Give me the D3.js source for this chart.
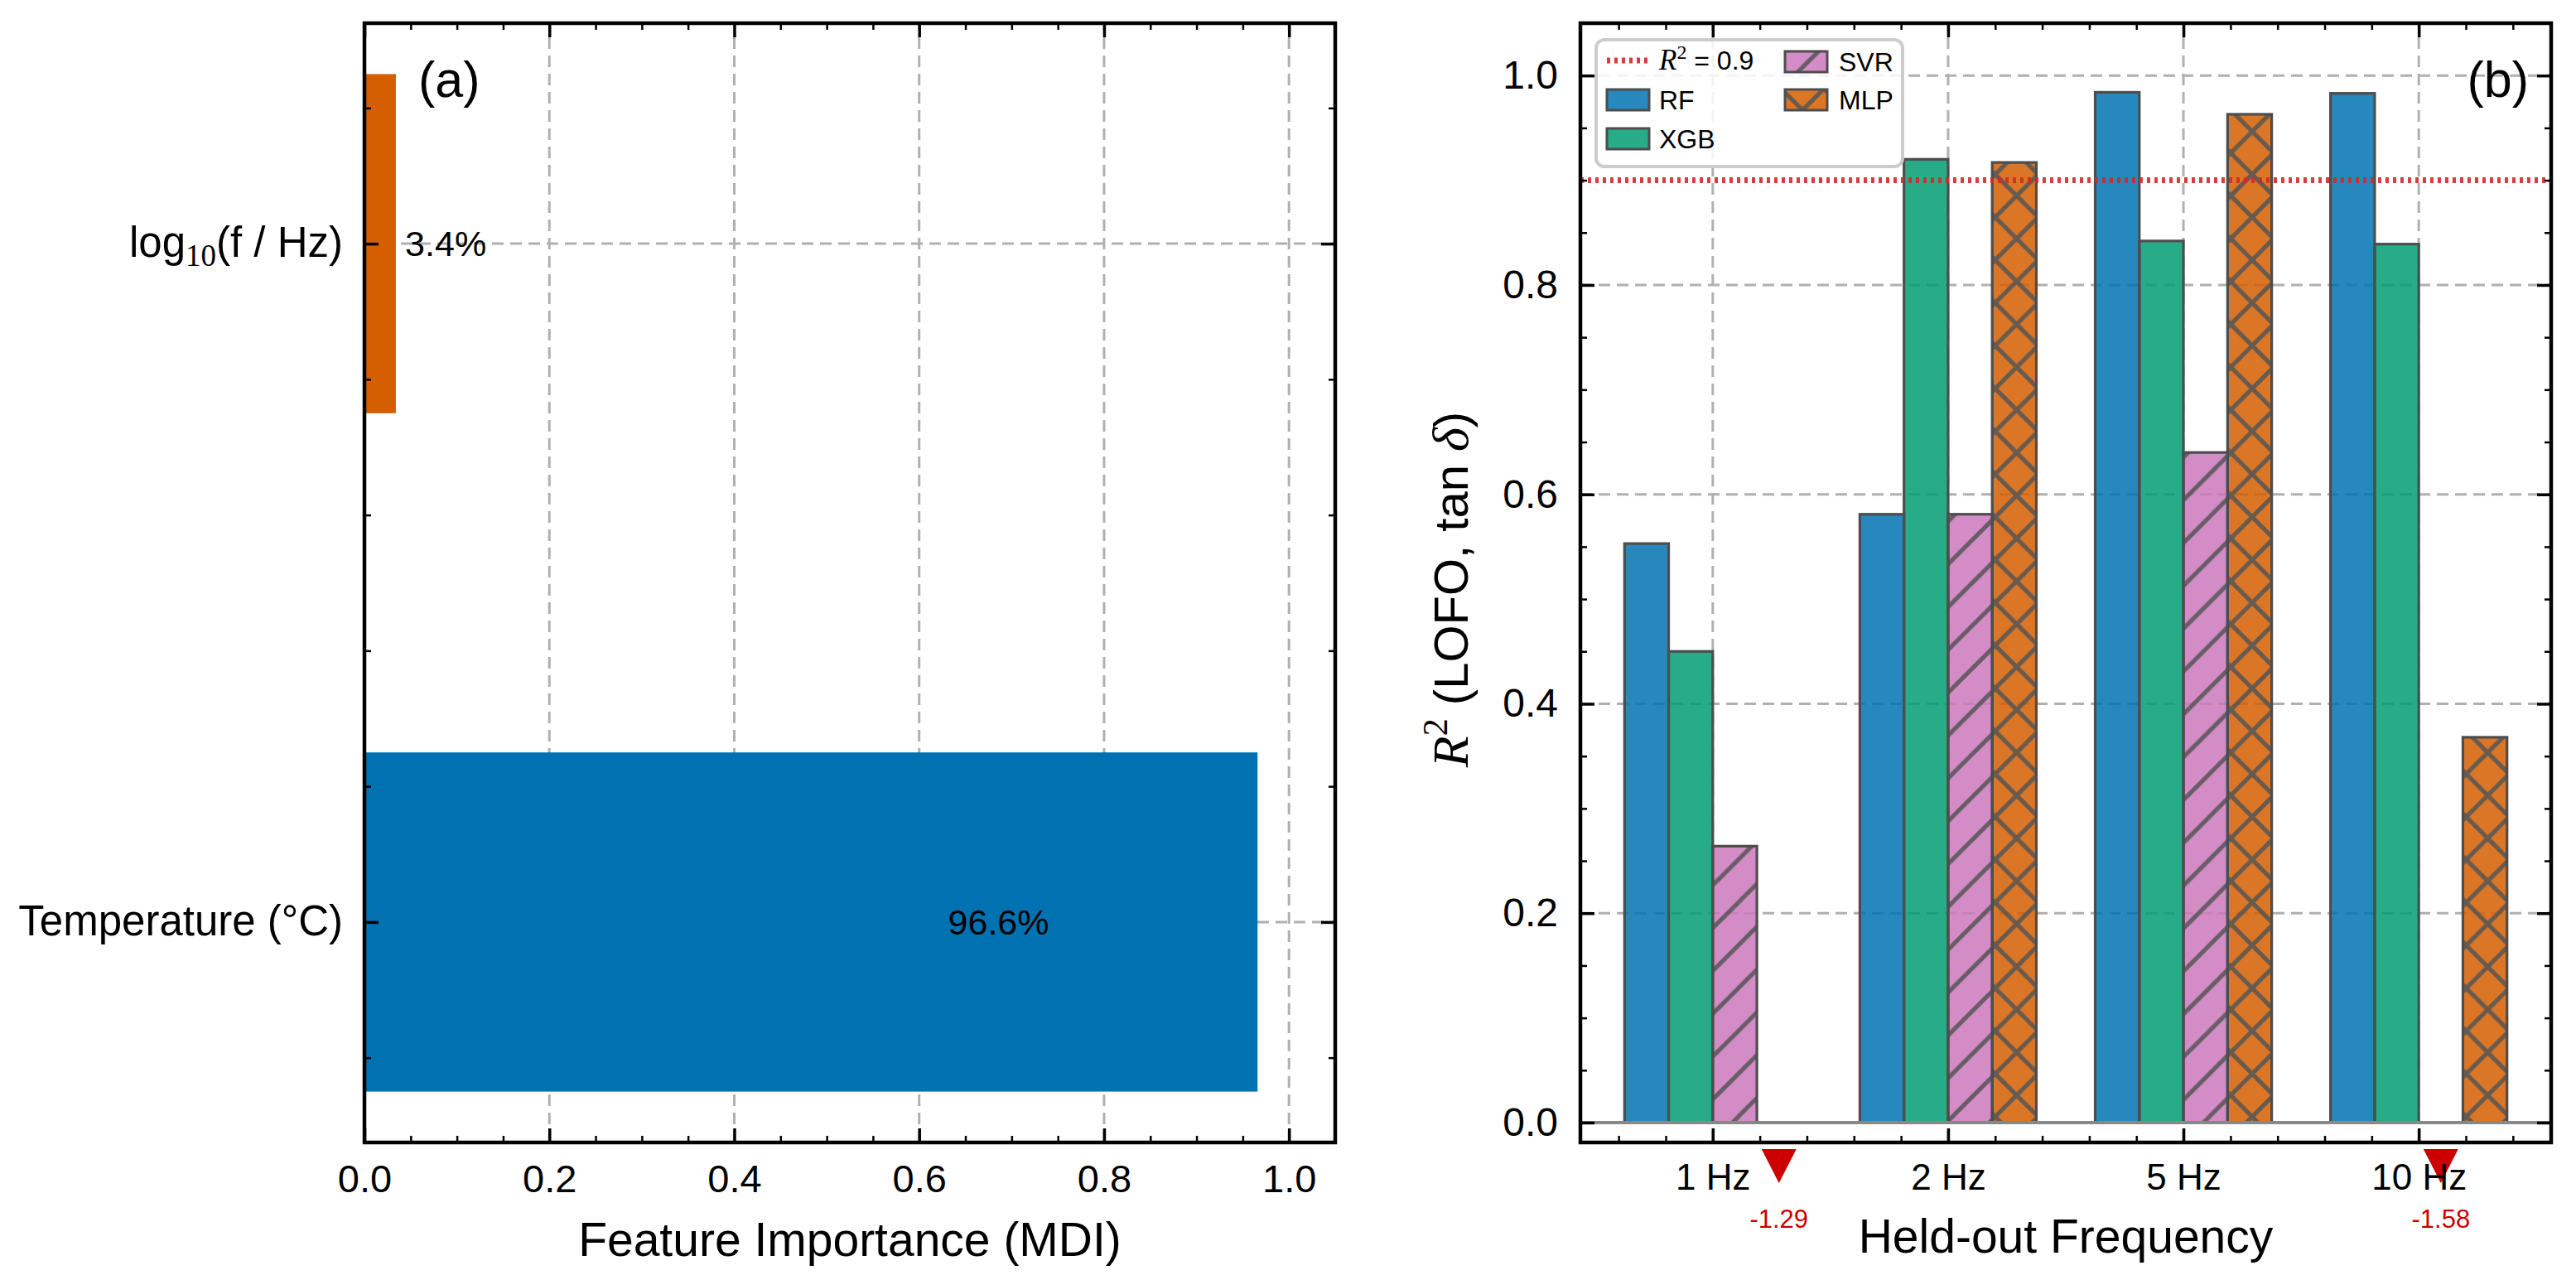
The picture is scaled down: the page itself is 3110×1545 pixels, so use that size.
<!DOCTYPE html>
<html><head><meta charset="utf-8">
<script src="https://cdn.jsdelivr.net/npm/d3@7"></script>
<style>body{margin:0;background:#fff}svg{display:block}</style>
</head><body><div id="chart"></div>
<script>
// ---------- Panel (a) data ----------
const features = ["Temperature (°C)", "log10(f / Hz)"];
const importance = [0.966, 0.034];
const featureColors = ["#0072B2", "#D55E00"];
const importanceTicks = [0, 0.2, 0.4, 0.6, 0.8, 1.0];

// ---------- Panel (b) data ----------
const frequencies = ["1 Hz", "2 Hz", "5 Hz", "10 Hz"];
const models = ["RF", "XGB", "SVR", "MLP"];
const rfR2  = [0.553, 0.581, 0.984, 0.983];
const xgbR2 = [0.450, 0.920, 0.842, 0.839];
const svrR2 = [0.264, 0.581, 0.640, -1.58];
const mlpR2 = [-1.29, 0.917, 0.963, 0.368];
const r2Ticks = [0, 0.2, 0.4, 0.6, 0.8, 1.0];
const threshold = 0.9;

const modelColors = ["#0173B2", "#029E73", "#CC78BC", "#D55E00"];
const modelHatch = [null, null, "slash", "cross"];
const modelValues = [rfR2, xgbR2, svrR2, mlpR2];

const SANS = "'Liberation Sans', Arial, Helvetica, sans-serif";
const SERIF = "'Liberation Serif', 'DejaVu Serif', serif";

const svg = d3.select("#chart").append("svg")
  .attr("width", 3110).attr("height", 1545)
  .style("font-family", SANS);

// ---------- hatch patterns ----------
const P = 51.7;
const defs = svg.append("defs");
function mkPattern(id, paths) {
  const p = defs.append("pattern").attr("id", id)
    .attr("patternUnits", "userSpaceOnUse")
    .attr("width", P).attr("height", P)
    .attr("patternTransform", "translate(30.65,3.65)");
  paths.forEach(d => p.append("path").attr("d", d)
    .attr("stroke", "#555").attr("stroke-width", 5.2).attr("fill", "none"));
}
const slash = [`M0,${P}L${P},0`, `M${-P/4},${P/4}L${P/4},${-P/4}`, `M${0.75*P},${1.25*P}L${1.25*P},${0.75*P}`];
const back = [`M0,0L${P},${P}`, `M${-P/4},${0.75*P}L${P/4},${1.25*P}`, `M${0.75*P},${-P/4}L${1.25*P},${P/4}`];
mkPattern("slash", slash);
mkPattern("cross", slash.concat(back));

function styleAxis(a, w, fs) {
  a.attr("font-family", null).attr("font-size", null);
  a.select(".domain").remove();
  a.selectAll(".tick line").attr("stroke", "#000").attr("stroke-width", w);
  a.selectAll(".tick text").attr("fill", "#000").style("font-size", fs + "px").style("font-family", SANS);
  return a;
}

// =====================================================
// Panel (a)
// =====================================================
const xA = d3.scaleLinear().domain([0, 1.05]).range([440, 1612]);
const yA = d3.scaleLinear().domain([-0.325, 1.325]).range([1379, 28]);
const gA = svg.append("g");
const [ax0, ax1] = xA.range(), [ay0, ay1] = yA.range();

// grid
gA.selectAll(".gx").data(importanceTicks).join("line")
  .attr("x1", d => xA(d)).attr("x2", d => xA(d)).attr("y1", ay0).attr("y2", ay1)
  .attr("stroke", "#b0b0b0").attr("stroke-width", 3).attr("stroke-dasharray", "14,8");
gA.selectAll(".gy").data([0, 1]).join("line")
  .attr("x1", ax0).attr("x2", ax1).attr("y1", d => yA(d)).attr("y2", d => yA(d))
  .attr("stroke", "#b0b0b0").attr("stroke-width", 3).attr("stroke-dasharray", "14,8");

// bars
gA.selectAll(".barA").data(importance).join("rect")
  .attr("x", xA(0)).attr("y", (d, i) => yA(i + 0.25))
  .attr("width", d => xA(d) - xA(0)).attr("height", (d, i) => yA(i - 0.25) - yA(i + 0.25))
  .attr("fill", (d, i) => featureColors[i]);

// percentage labels
gA.selectAll(".lblA").data(importance).join("text")
  .attr("x", d => d > 0.5 ? xA(d * 0.71) : xA(d + 0.01))
  .attr("y", (d, i) => yA(i)).attr("dy", "0.35em")
  .attr("text-anchor", d => d > 0.5 ? "middle" : "start")
  .style("font-size", "43px")
  .text(d => (d * 100).toFixed(1) + "%");

// axes ticks
const minorA = d3.range(1, 21).filter(k => k % 4 !== 0).map(k => k * 0.05);
styleAxis(gA.append("g").attr("transform", `translate(0,${ay0})`)
  .call(d3.axisBottom(xA).tickValues(importanceTicks).tickSize(-17).tickPadding(27).tickFormat(d3.format(".1f"))), 3.5, 47);
styleAxis(gA.append("g").attr("transform", `translate(0,${ay0})`)
  .call(d3.axisBottom(xA).tickValues(minorA).tickSize(-8).tickFormat("")), 2.5, 10);
styleAxis(gA.append("g").attr("transform", `translate(0,${ay1})`)
  .call(d3.axisTop(xA).tickValues(importanceTicks).tickSize(-17).tickFormat("")), 3.5, 10);
styleAxis(gA.append("g").attr("transform", `translate(0,${ay1})`)
  .call(d3.axisTop(xA).tickValues(minorA).tickSize(-8).tickFormat("")), 2.5, 10);
const minorYA = [-0.2, 0.2, 0.4, 0.6, 0.8, 1.2];
[[d3.axisLeft, ax0], [d3.axisRight, ax1]].forEach(([gen, xp]) => {
  styleAxis(gA.append("g").attr("transform", `translate(${xp},0)`)
    .call(gen(yA).tickValues([0, 1]).tickSize(-17).tickFormat("")), 3.5, 10);
  styleAxis(gA.append("g").attr("transform", `translate(${xp},0)`)
    .call(gen(yA).tickValues(minorYA).tickSize(-8).tickFormat("")), 2.5, 10);
});

// y tick labels (feature names)
features.forEach((f, i) => {
  const t = gA.append("text").attr("x", xA(0) - 26).attr("y", yA(i)).attr("dy", "0.32em")
    .attr("text-anchor", "end").style("font-size", "51px");
  const m = f.match(/^log10(.*)$/);
  if (m) {
    t.append("tspan").text("log");
    t.append("tspan").attr("dy", 11).style("font-size", "37px").style("font-family", SERIF).text("10");
    t.append("tspan").attr("dy", -11).text(m[1]);
  } else t.text(f);
});

// frame
gA.append("rect").attr("x", ax0).attr("y", ay1).attr("width", ax1 - ax0).attr("height", ay0 - ay1)
  .attr("fill", "none").attr("stroke", "#000").attr("stroke-width", 4.5);

gA.append("text").attr("x", (ax0 + ax1) / 2).attr("y", 1516).attr("text-anchor", "middle")
  .style("font-size", "57px").text("Feature Importance (MDI)");
gA.append("text").attr("x", ax0 + 65).attr("y", 117).style("font-size", "61px").text("(a)");

// =====================================================
// Panel (b)
// =====================================================
const w = 0.1875;
const xB = d3.scaleLinear().domain([-0.5625, 3.5625]).range([1908, 3080]);
const yB = d3.scaleLinear().domain([-0.019, 1.05]).range([1379, 28]);
const gB = svg.append("g");
const [bx0, bx1] = xB.range(), [by0, by1] = yB.range();
const cats = d3.range(frequencies.length);

// grid
gB.selectAll(".gx").data(cats).join("line")
  .attr("x1", d => xB(d)).attr("x2", d => xB(d)).attr("y1", by0).attr("y2", by1)
  .attr("stroke", "#b0b0b0").attr("stroke-width", 3).attr("stroke-dasharray", "14,8");
gB.selectAll(".gy").data(r2Ticks).join("line")
  .attr("x1", bx0).attr("x2", bx1).attr("y1", d => yB(d)).attr("y2", d => yB(d))
  .attr("stroke", "#b0b0b0").attr("stroke-width", 3).attr("stroke-dasharray", "14,8");

// bars
const barData = [];
models.forEach((m, j) => modelValues[j].forEach((v, i) => barData.push({ m, j, i, v })));
const pos = barData.filter(d => d.v >= 0);
const neg = barData.filter(d => d.v < 0);
const bx = d => xB(d.i + (d.j - 2) * w);
const bw = d => xB(d.i + (d.j - 1) * w) - xB(d.i + (d.j - 2) * w);
gB.selectAll(".barB").data(pos).join("rect")
  .attr("x", bx).attr("y", d => yB(d.v)).attr("width", bw).attr("height", d => yB(0) - yB(d.v))
  .attr("fill", d => modelColors[d.j]).attr("fill-opacity", 0.85);
gB.selectAll(".hatchB").data(pos.filter(d => modelHatch[d.j])).join("rect")
  .attr("x", bx).attr("y", d => yB(d.v)).attr("width", bw).attr("height", d => yB(0) - yB(d.v))
  .attr("fill", d => `url(#${modelHatch[d.j]})`).attr("opacity", 0.85);
gB.selectAll(".edgeB").data(pos).join("rect")
  .attr("x", bx).attr("y", d => yB(d.v)).attr("width", bw).attr("height", d => yB(0) - yB(d.v))
  .attr("fill", "none").attr("stroke", "#4d4d4d").attr("stroke-width", 3.2);

// zero line
gB.append("line").attr("x1", bx0).attr("x2", bx1).attr("y1", yB(0)).attr("y2", yB(0))
  .attr("stroke", "#888").attr("stroke-width", 4);
// threshold line
gB.append("line").attr("x1", bx0).attr("x2", bx1).attr("y1", yB(threshold)).attr("y2", yB(threshold))
  .attr("stroke", "#d62728").attr("stroke-opacity", 0.9).attr("stroke-width", 7).attr("stroke-dasharray", "4,5");

// off-scale markers for negative scores
const cx = d => xB(d.i + (d.j - 1.5) * w);
gB.selectAll(".tri").data(neg).join("path")
  .attr("d", d => { const p = d3.path(); const t = by0 + 8; p.moveTo(cx(d) - 21, t); p.lineTo(cx(d) + 21, t); p.lineTo(cx(d), t + 41); p.closePath(); return p.toString(); })
  .attr("fill", "#cc0000");
gB.selectAll(".negLbl").data(neg).join("text")
  .attr("x", cx).attr("y", by0 + 103).attr("text-anchor", "middle")
  .attr("fill", "#cc0000").style("font-size", "31px").text(d => d.v.toFixed(2));

// ticks
const minorXB = d3.range(-2, 18).filter(k => k % 5 !== 0).map(k => k * 0.2);
const minorYB = d3.range(1, 21).filter(k => k % 4 !== 0).map(k => k * 0.05);
styleAxis(gB.append("g").attr("transform", `translate(0,${by0})`)
  .call(d3.axisBottom(xB).tickValues(cats).tickSize(-17).tickPadding(26).tickFormat(i => frequencies[i])), 3.5, 44);
styleAxis(gB.append("g").attr("transform", `translate(0,${by0})`)
  .call(d3.axisBottom(xB).tickValues(minorXB).tickSize(-8).tickFormat("")), 2.5, 10);
styleAxis(gB.append("g").attr("transform", `translate(0,${by1})`)
  .call(d3.axisTop(xB).tickValues(cats).tickSize(-17).tickFormat("")), 3.5, 10);
styleAxis(gB.append("g").attr("transform", `translate(0,${by1})`)
  .call(d3.axisTop(xB).tickValues(minorXB).tickSize(-8).tickFormat("")), 2.5, 10);
styleAxis(gB.append("g").attr("transform", `translate(${bx0},0)`)
  .call(d3.axisLeft(yB).tickValues(r2Ticks).tickSize(-17).tickPadding(27).tickFormat(d3.format(".1f"))), 3.5, 48);
styleAxis(gB.append("g").attr("transform", `translate(${bx0},0)`)
  .call(d3.axisLeft(yB).tickValues(minorYB).tickSize(-8).tickFormat("")), 2.5, 10);
styleAxis(gB.append("g").attr("transform", `translate(${bx1},0)`)
  .call(d3.axisRight(yB).tickValues(r2Ticks).tickSize(-17).tickFormat("")), 3.5, 10);
styleAxis(gB.append("g").attr("transform", `translate(${bx1},0)`)
  .call(d3.axisRight(yB).tickValues(minorYB).tickSize(-8).tickFormat("")), 2.5, 10);

// legend
const lg = gB.append("g");
lg.append("rect").attr("x", 1927).attr("y", 48).attr("width", 370).attr("height", 153).attr("rx", 10)
  .attr("fill", "#fff").attr("fill-opacity", 0.85).attr("stroke", "#cccccc").attr("stroke-width", 4);
lg.append("line").attr("x1", 1940).attr("x2", 1989).attr("y1", 73).attr("y2", 73)
  .attr("stroke", "#d62728").attr("stroke-opacity", 0.9).attr("stroke-width", 7).attr("stroke-dasharray", "4,5");
const lt = lg.append("text").attr("x", 2003).attr("y", 84).style("font-size", "32px");
lt.append("tspan").style("font-family", SERIF).style("font-style", "italic").style("font-size", "35px").text("R");
lt.append("tspan").attr("dy", -13).style("font-family", SERIF).style("font-size", "24px").text("2");
lt.append("tspan").attr("dy", 13).text(" = " + threshold);
const legPos = [[1940, 108, 2003], [1940, 155, 2003], [2155, 62, 2220], [2155, 108, 2220]];
models.forEach((m, j) => {
  const [px, py, tx] = legPos[j];
  lg.append("rect").attr("x", px).attr("y", py).attr("width", 51).attr("height", 25)
    .attr("fill", modelColors[j]).attr("fill-opacity", 0.85);
  if (modelHatch[j]) lg.append("rect").attr("x", px).attr("y", py).attr("width", 51).attr("height", 25)
    .attr("fill", `url(#${modelHatch[j]})`).attr("opacity", 0.85);
  lg.append("rect").attr("x", px).attr("y", py).attr("width", 51).attr("height", 25)
    .attr("fill", "none").attr("stroke", "#4d4d4d").attr("stroke-width", 3);
  lg.append("text").attr("x", tx).attr("y", py + 12.5).attr("dy", "0.36em").style("font-size", "32px").text(m);
});

// frame
gB.append("rect").attr("x", bx0).attr("y", by1).attr("width", bx1 - bx0).attr("height", by0 - by1)
  .attr("fill", "none").attr("stroke", "#000").attr("stroke-width", 4.5);

// labels
gB.append("text").attr("x", (bx0 + bx1) / 2).attr("y", 1512).attr("text-anchor", "middle")
  .style("font-size", "57px").text("Held-out Frequency");
const yl = gB.append("text").attr("transform", `translate(1772,${(by0 + by1) / 2 + 8}) rotate(-90)`)
  .attr("text-anchor", "middle").style("font-size", "58px");
yl.append("tspan").style("font-family", SERIF).style("font-style", "italic").style("font-size", "62px").text("R");
yl.append("tspan").attr("dy", -25).style("font-family", SERIF).style("font-size", "42px").text("2");
yl.append("tspan").attr("dy", 25).text(" (LOFO, tan ");
yl.append("tspan").style("font-family", SERIF).style("font-style", "italic").style("font-size", "62px").text("δ");
yl.append("tspan").text(")");
gB.append("text").attr("x", 3053).attr("y", 117).attr("text-anchor", "end").style("font-size", "61px").text("(b)");
</script></body></html>
